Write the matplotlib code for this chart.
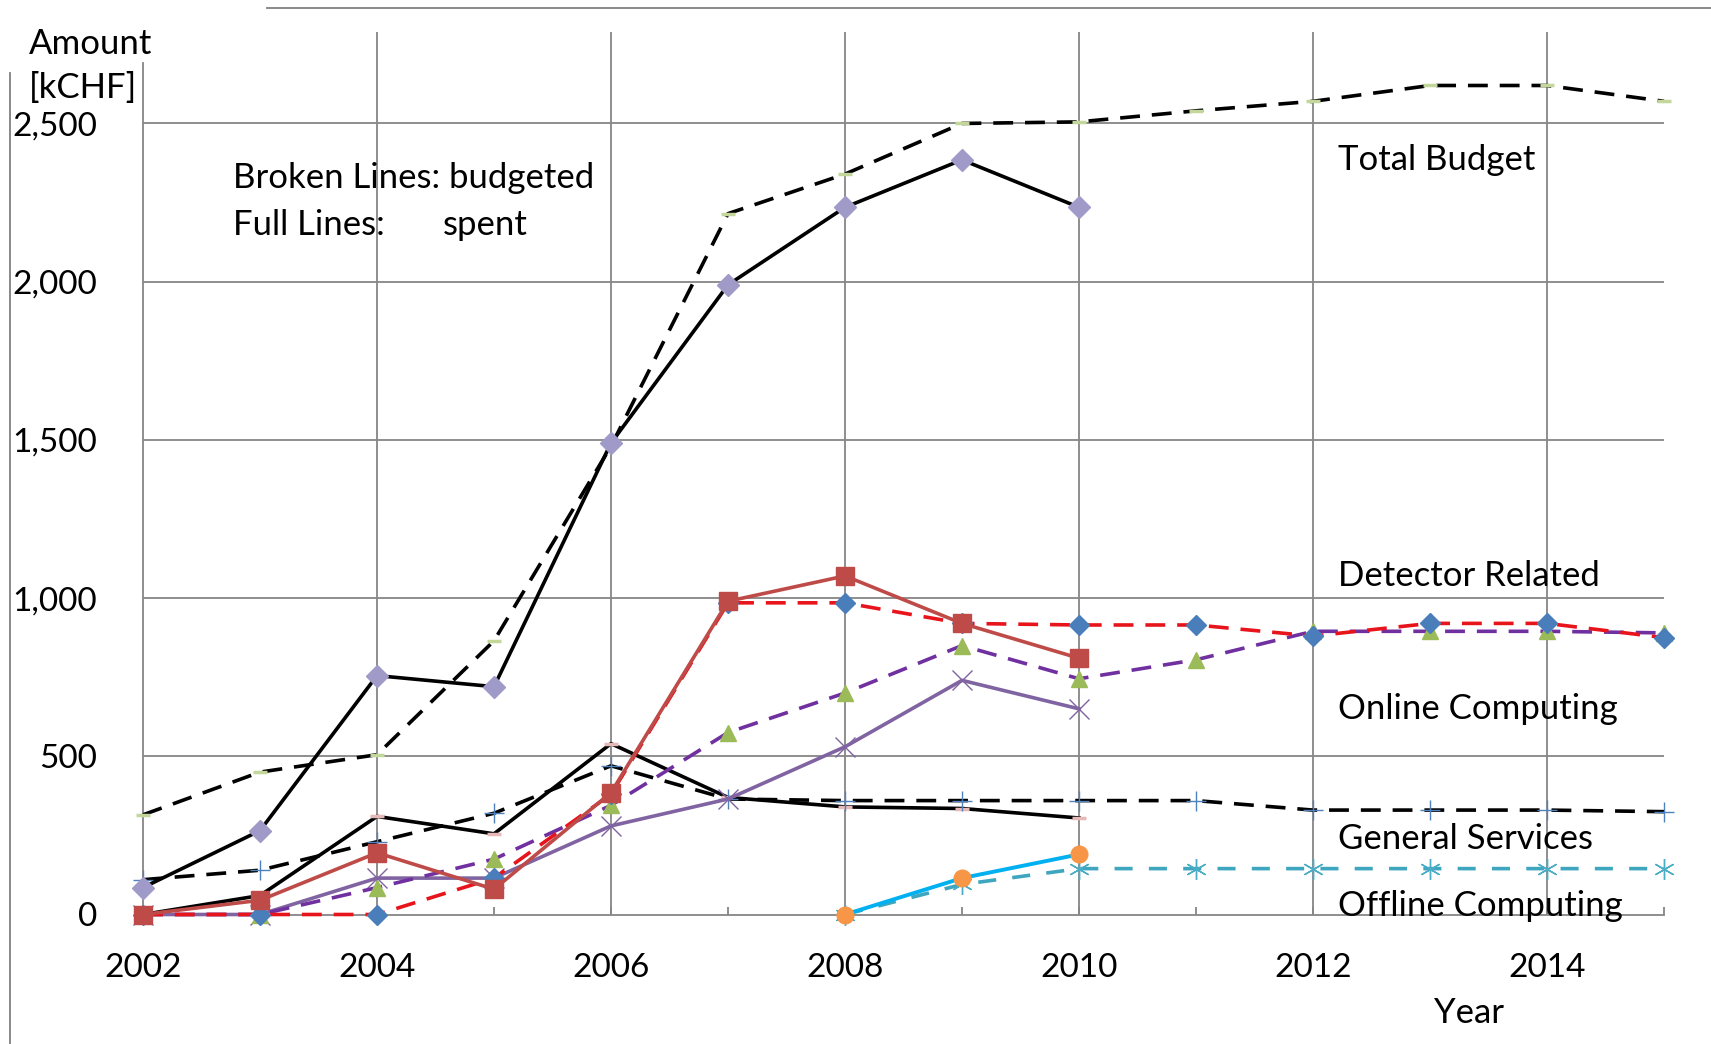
import matplotlib
matplotlib.use("Agg")
import matplotlib.pyplot as plt
from matplotlib.lines import Line2D

plt.rcParams['font.family'] = ['Lato', 'DejaVu Sans']

# datos (kCHF)
years_all = list(range(2002, 2016))
years_spent = list(range(2002, 2011))
years_offline = list(range(2008, 2016))
years_offline_spent = list(range(2008, 2011))

total_budget = [315, 450, 505, 865, 1480, 2215, 2340, 2500, 2505, 2540, 2570, 2620, 2620, 2570]
total_spent = [85, 265, 755, 720, 1490, 1990, 2235, 2385, 2235]
detector_budget = [0, 0, 0, 115, 380, 985, 985, 920, 915, 915, 880, 920, 920, 875]
detector_spent = [0, 45, 195, 80, 385, 990, 1070, 920, 810]
online_budget = [0, 0, 85, 175, 345, 575, 700, 850, 745, 805, 895, 895, 895, 890]
online_spent = [0, 0, 115, 115, 280, 365, 530, 740, 650]
general_budget = [110, 140, 230, 320, 470, 365, 360, 360, 360, 360, 330, 330, 330, 325]
general_spent = [0, 60, 310, 255, 540, 370, 340, 335, 305]
offline_budget = [0, 95, 145, 145, 145, 145, 145, 145]
offline_spent = [0, 115, 190]

labels_right = ['Total Budget', 'Detector Related', 'Online Computing', 'General Services', 'Offline Computing']
labels_right_y = [2383, 1069, 649, 238, 28]

W, H = 1711, 1044
fig = plt.figure(figsize=(W / 100, H / 100), dpi=100)
ax = fig.add_axes([143 / W, 129.5 / H, (1664 - 143) / W, 882.8 / H])

dash = (0, (5.5, 3.3))
kw = dict(clip_on=False)

ax.plot(years_spent, general_spent, color='black', lw=2.6, marker='_', ms=10, mec='#E6B9B8', mew=2.5, **kw)
ax.plot(years_all, general_budget, color='black', lw=2.6, ls=dash, marker='+', ms=14, mec='#4F81BD', mew=1, **kw)
ax.plot(years_offline, offline_budget, color='#3FA6BF', lw=2.6, ls=(0, (5, 4.5)), marker=(6, 2, 0), ms=15, mec='#4BACC6', mew=1, **kw)
ax.plot(years_offline_spent, offline_spent, color='#00B0F0', lw=2.8, marker='o', ms=12, mfc='#F79646', mec='#F79646', **kw)
ax.plot(years_spent, online_spent, color='#8064A2', lw=2.6, marker='x', ms=14, mec='#8064A2', mew=1, **kw)
ax.plot(years_all, online_budget, color='#7030A0', lw=2.6, ls=dash, marker='^', ms=11, mfc='#9BBB59', mec='#9BBB59', **kw)
ax.plot(years_all, detector_budget, color='#E8141B', lw=2.6, ls=dash, marker='D', ms=10, mfc='#4A7EBB', mec='#4A7EBB', **kw)
ax.plot(years_spent, detector_spent, color='#BE4B48', lw=2.6, marker='s', ms=12.5, mfc='#BE4B48', mec='#BE4B48', **kw)
ax.plot(years_all, total_budget, color='black', lw=2.6, ls=dash, marker='_', ms=10, mec='#C4D79B', mew=2.5, **kw)
ax.plot(years_spent, total_spent, color='black', lw=2.6, marker='D', ms=11, mfc='#A09AC8', mec='#A09AC8', **kw)

ax.set_xlim(2002, 2015)
ax.set_ylim(0, 2790)
ax.set_xticks(range(2002, 2015, 2))
ax.set_xticks(range(2002, 2016), minor=True)
ax.set_yticks(range(0, 2501, 500))
ax.set_yticklabels([f'{v:,}' for v in range(0, 2501, 500)])

gc = '#868686'
for v in range(500, 2501, 500):
    ax.axhline(v, color=gc, lw=1.3, zorder=0)
for yr in range(2004, 2015, 2):
    ax.axvline(yr, color=gc, lw=1.3, zorder=0)

for s in ['top', 'right']:
    ax.spines[s].set_visible(False)
for s in ['left', 'bottom']:
    ax.spines[s].set_color(gc)
    ax.spines[s].set_linewidth(1.3)
    ax.spines[s].set_zorder(0)
ax.spines['left'].set_bounds(0, 2690)

ax.tick_params(axis='x', which='both', direction='in', length=6, width=1.3, color=gc,
               labelsize=24, pad=28)
ax.tick_params(axis='y', length=0, labelsize=24, pad=33)

for txt, yv in zip(labels_right, labels_right_y):
    ax.text(2012.21, yv, txt, fontsize=25, va='center', ha='left')

ax.text(2002.77, 2328, 'Broken Lines: budgeted', fontsize=25, va='center')
ax.text(2002.77, 2180, 'Full Lines:', fontsize=25, va='center')
ax.text(2004.56, 2180, 'spent', fontsize=25, va='center')
ax.text(2013.03, -312, 'Year', fontsize=25, va='center', clip_on=False)

fig.text(29 / W, 1 - 44 / H, 'Amount', fontsize=25, va='center')
fig.text(29 / W, 1 - 88 / H, '[kCHF]', fontsize=25, va='center')

# lineas del marco de la pagina
fig.add_artist(Line2D([267 / W, 1], [1 - 8 / H, 1 - 8 / H], color='#808080', lw=1.3))
fig.add_artist(Line2D([10 / W, 10 / W], [0, 1 - 73 / H], color='#808080', lw=1.3))

fig.savefig('out.png', dpi=100)
